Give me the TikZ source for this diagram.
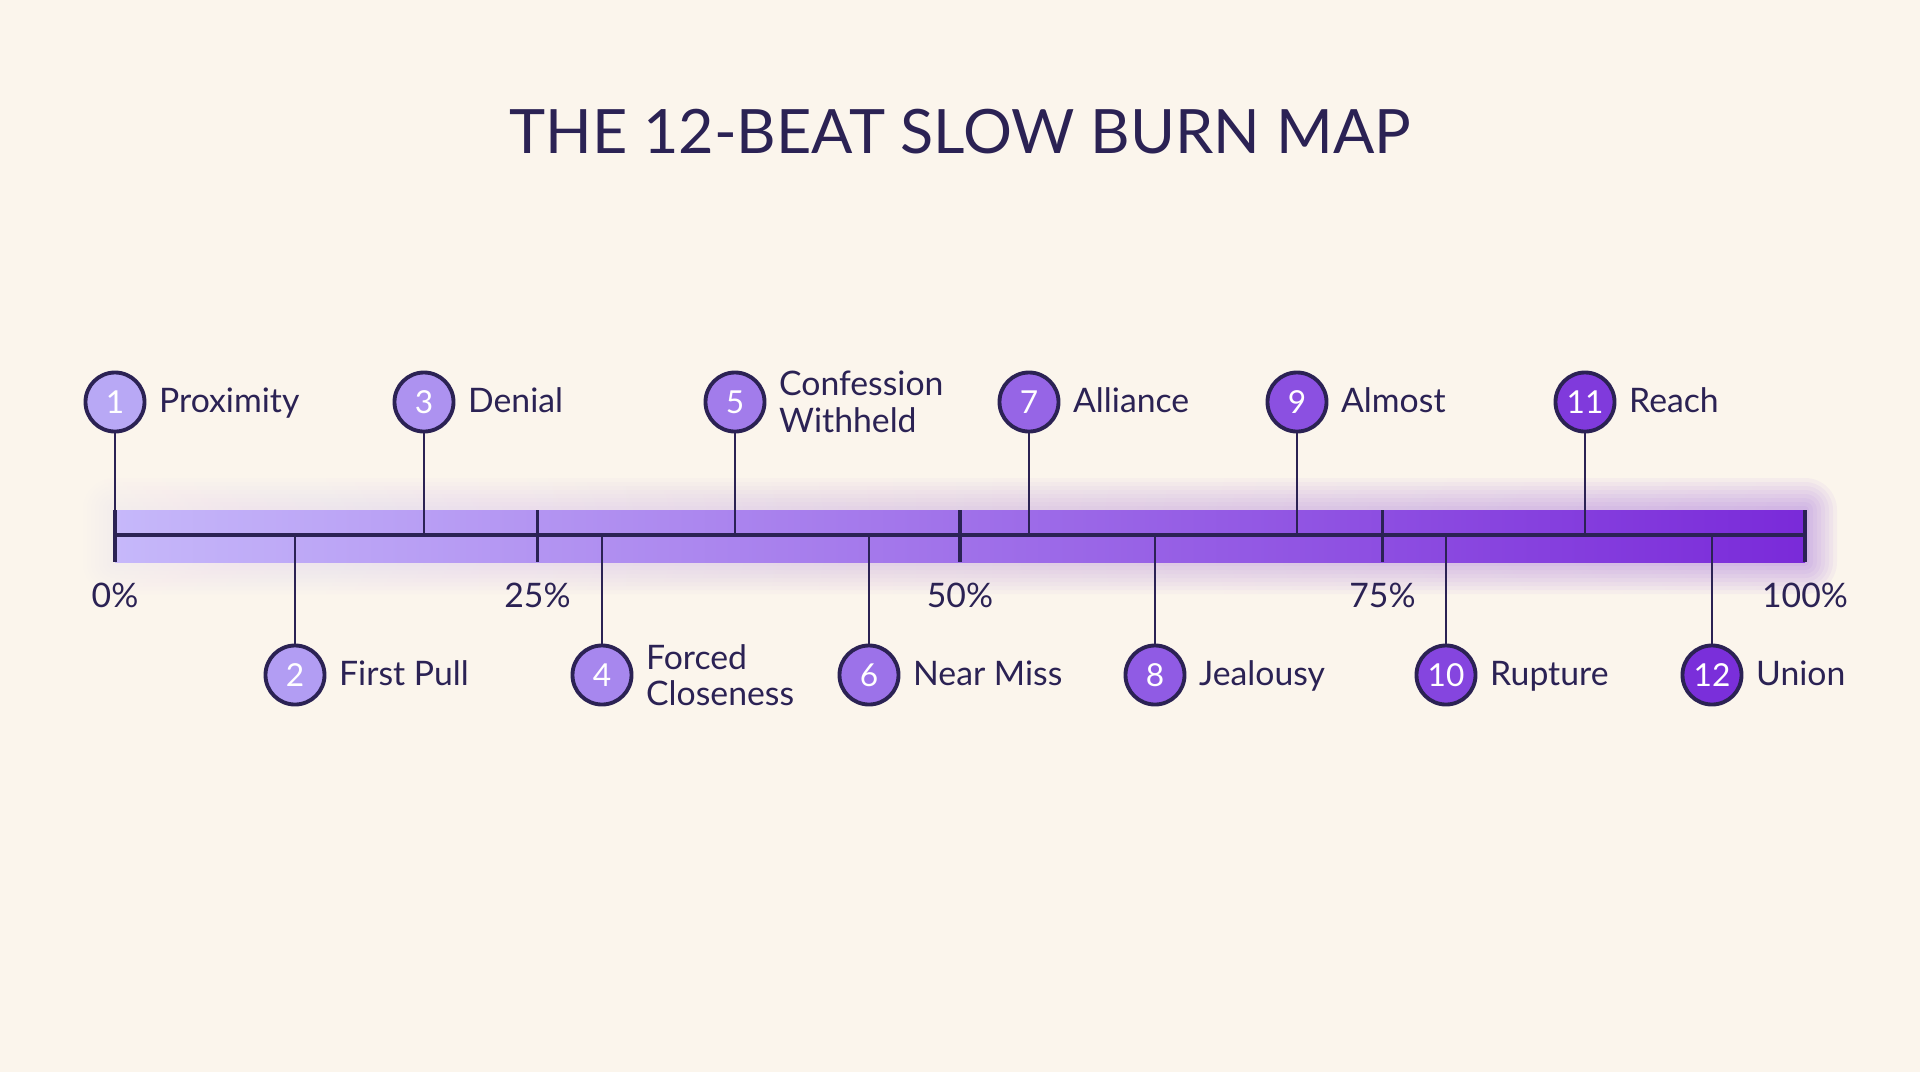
\documentclass[tikz,border=0pt]{standalone}
\usepackage{fontspec}
\setmainfont{Lato}
\usetikzlibrary{positioning}
\definecolor{paper}{HTML}{FBF5EC}
\definecolor{ink}{HTML}{2B2254}
\definecolor{lilac}{HTML}{B8A8F5}
\definecolor{violet}{HTML}{7A2FDA}
\definecolor{barA}{HTML}{C6B8FA}
\definecolor{barB}{HTML}{7A2AD9}

\begin{document}
\begin{tikzpicture}[x=0.01cm, y=-0.01cm, font=\fontsize{9.6}{10.4}\selectfont, text=ink,
  beat/.style = {circle, draw=ink, line width=1.1pt, fill=violet!#1!lilac, minimum size=0.59cm, inner sep=0pt, text=white, font=\fontsize{9}{10}\selectfont},
  lbl/.style = {inner sep=0pt, anchor=west, text height=1.6ex, text depth=0.45ex},
  lbltwo/.style = {inner sep=0pt, anchor=west, align=left},
  pct/.style = {inner sep=0pt},
  tick/.style = {draw=ink, line width=1.1pt},
  leader/.style = {draw=ink, line width=0.8pt}]
  \useasboundingbox[fill=paper] (0,0) rectangle (1920,1072);

  % title
  \node[font=\fontsize{17.4}{21}\selectfont] (title) at (960,132) {THE 12-BEAT SLOW BURN MAP};

  % glowing bar
  \foreach \g in {4,8,...,32}
    \shade[left color=barA!35!paper, right color=barB, opacity=0.045, rounded corners=\g*0.01cm] ({115-\g},{510-\g}) rectangle ({1805+\g},{562+\g});
  \shade[left color=barA, right color=barB] (115,510) rectangle (1805,562);

  % axis
  \coordinate (start) at (115,535);
  \coordinate (end) at (1805,535);
  \draw[tick] (start) -- (end);
  \draw[tick] (115,510) -- (115,562);
  \draw[tick] (537.5,510) -- (537.5,562);
  \draw[tick] (960,510) -- (960,562);
  \draw[tick] (1382.5,510) -- (1382.5,562);
  \draw[tick] (1805,510) -- (1805,562);

  \node[pct] (p0) at (115,595) {0\%};
  \node[pct] (p25) at (537.5,595) {25\%};
  \node[pct] (p50) at (960,595) {50\%};
  \node[pct] (p75) at (1382.5,595) {75\%};
  \node[pct] (p100) at (1805,595) {100\%};

  % beats above the bar
  \node[beat=0] (b1) at (115,402) {1};
  \node[beat=18] (b3) at (424,402) {3};
  \node[beat=36] (b5) at (735,402) {5};
  \node[beat=55] (b7) at (1029,402) {7};
  \node[beat=73] (b9) at (1297,402) {9};
  \node[beat=91] (b11) at (1585,402) {11};

  % beats below the bar
  \node[beat=9] (b2) at (295,675) {2};
  \node[beat=27] (b4) at (602,675) {4};
  \node[beat=45] (b6) at (869,675) {6};
  \node[beat=64] (b8) at (1155,675) {8};
  \node[beat=82] (b10) at (1446,675) {10};
  \node[beat=100] (b12) at (1712,675) {12};

  \draw[leader] (b1) -- (b1 |- start);
  \draw[leader] (b3) -- (b3 |- start);
  \draw[leader] (b5) -- (b5 |- start);
  \draw[leader] (b7) -- (b7 |- start);
  \draw[leader] (b9) -- (b9 |- start);
  \draw[leader] (b11) -- (b11 |- start);
  \draw[leader] (b2 |- start) -- (b2);
  \draw[leader] (b4 |- start) -- (b4);
  \draw[leader] (b6 |- start) -- (b6);
  \draw[leader] (b8 |- start) -- (b8);
  \draw[leader] (b10 |- start) -- (b10);
  \draw[leader] (b12 |- start) -- (b12);

  \node[lbl, right=0.12cm of b1] (l1) {Proximity};
  \node[lbl, right=0.12cm of b2] (l2) {First Pull};
  \node[lbl, right=0.12cm of b3] (l3) {Denial};
  \node[lbltwo, right=0.12cm of b4] (l4) {Forced\\Closeness};
  \node[lbltwo, right=0.12cm of b5] (l5) {Confession\\Withheld};
  \node[lbl, right=0.12cm of b6] (l6) {Near Miss};
  \node[lbl, right=0.12cm of b7] (l7) {Alliance};
  \node[lbl, right=0.12cm of b8] (l8) {Jealousy};
  \node[lbl, right=0.12cm of b9] (l9) {Almost};
  \node[lbl, right=0.12cm of b10] (l10) {Rupture};
  \node[lbl, right=0.12cm of b11] (l11) {Reach};
  \node[lbl, right=0.12cm of b12] (l12) {Union};
\end{tikzpicture}
\end{document}
